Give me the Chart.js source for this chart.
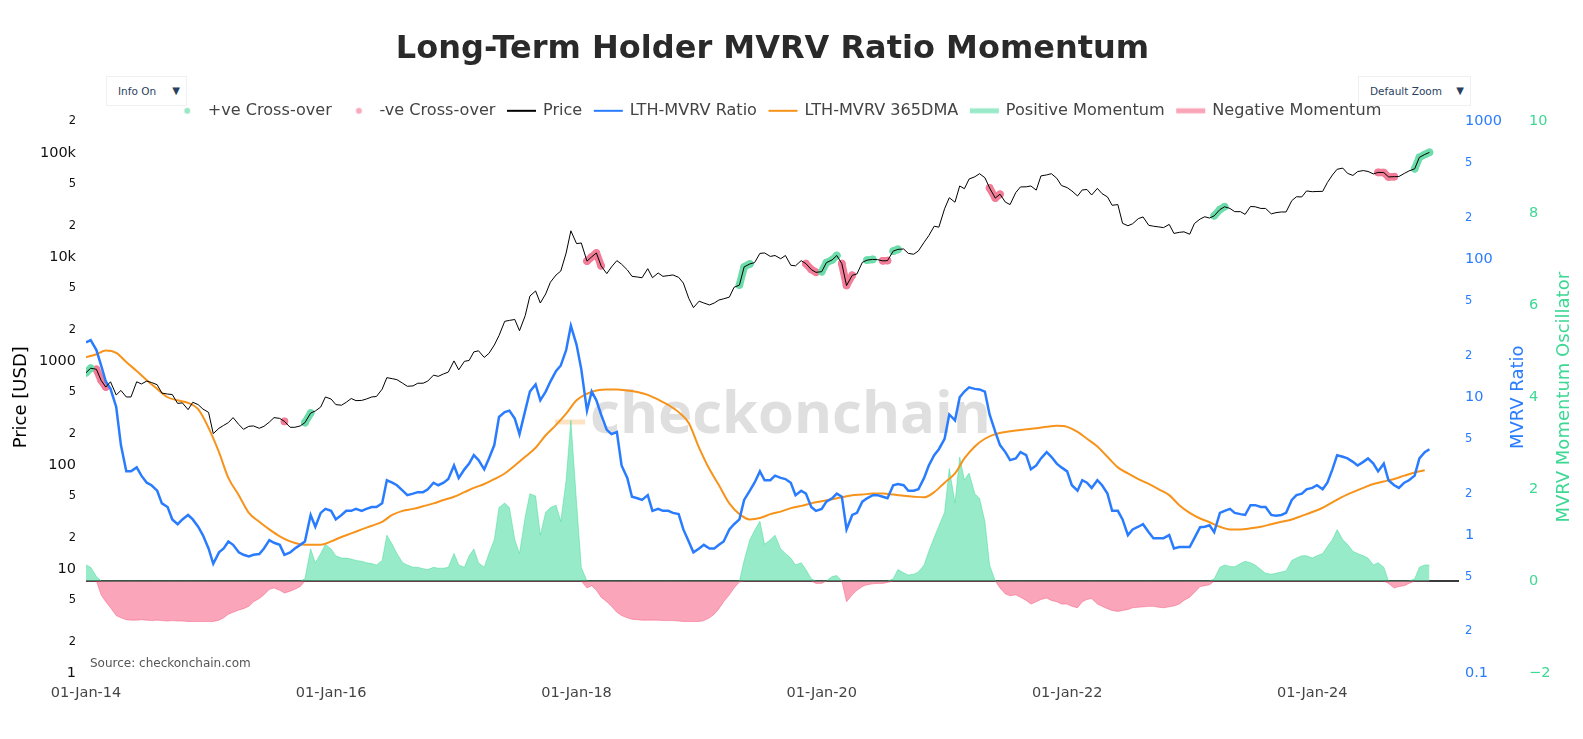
<!DOCTYPE html>
<html>
<head>
<meta charset="utf-8">
<title>Long-Term Holder MVRV Ratio Momentum</title>
<script src="https://cdn.jsdelivr.net/npm/chart.js@4.4.1/dist/chart.umd.min.js"></script>
<style>
  body { margin: 0; background: #fff; }
  #wrap { position: relative; width: 1583px; height: 739px; }
  .menu { position: absolute; top: 76px; height: 30px; box-sizing: border-box; border: 1px solid #eef0f4;
          background: #fff; font: 10.5px 'DejaVu Sans', sans-serif; color: #2a3f5f; line-height: 28px; padding-left: 11px; }
  .menu span { position: absolute; right: 6px; font-size: 10px; }
</style>
</head>
<body>
<div id="wrap">
  <canvas id="chart"></canvas>
  <div class="menu" style="left:106px;width:81px">Info On<span>▼</span></div>
  <div class="menu" style="left:1358px;width:113px">Default Zoom<span>▼</span></div>
</div>
<script>
// sample dates: 1st and 15th of every month, Jan 2014 - Dec 2024
const dates = [];
const dmaDates = [];
for (let y = 2014; y <= 2024; y++) {
  for (let m = 0; m < 12; m++) {
    dates.push(Date.UTC(y, m, 1), Date.UTC(y, m, 15));
    dmaDates.push(Date.UTC(y, m, 1));
  }
}

// BTC price (USD)
const price = [
  770, 850, 830, 650, 560, 630, 470, 520, 450, 450, 630, 600, 640, 620, 590, 490, 480, 475, 390, 395, 340, 400, 380, 345, // 2014
  320, 200, 225, 240, 255, 285, 245, 220, 235, 237, 225, 235, 258, 285, 280, 262, 230, 230, 237, 255, 315, 330, 360, 450, // 2015
  430, 380, 375, 400, 435, 415, 417, 430, 450, 455, 535, 690, 675, 660, 610, 570, 575, 610, 610, 640, 730, 710, 750, 780, // 2016
  1000, 820, 990, 1010, 1220, 1250, 1080, 1180, 1420, 1750, 2400, 2450, 2500, 1950, 2720, 4200, 4700, 3600, 4400, 5700, 6700, 7300, 10900, 17800, // 2017
  13400, 13600, 9100, 10000, 10900, 8200, 6900, 8000, 9200, 8500, 7500, 6500, 6400, 6300, 7700, 6300, 7000, 6500, 6600, 6700, 6350, 5600, 4000, 3250, // 2018
  3750, 3600, 3450, 3600, 3850, 3950, 4100, 5100, 5350, 8000, 8550, 8800, 10800, 10900, 10100, 10300, 9600, 10300, 8300, 8200, 9200, 8600, 7550, 7100, // 2019
  7200, 8800, 9350, 10300, 8600, 5300, 6650, 6850, 8850, 9300, 9450, 9400, 9150, 9200, 11350, 11800, 11900, 10800, 10600, 11400, 13800, 16000, 19700, 19300, // 2020
  29000, 37000, 33500, 48000, 45200, 56000, 58800, 63000, 57700, 46000, 36700, 40000, 33600, 31800, 41500, 47000, 47100, 48000, 43800, 60000, 61300, 63000, 57000, 48500, // 2021
  46300, 43000, 38500, 44000, 44400, 39300, 45500, 40500, 37700, 31300, 31800, 21000, 19900, 20800, 23300, 24200, 20100, 19700, 19400, 19100, 20500, 16800, 17200, 17400, // 2022
  16500, 20900, 23100, 24300, 23600, 24800, 28500, 30300, 29200, 27200, 27200, 25600, 30500, 30300, 29200, 29200, 25900, 26600, 27000, 27000, 34700, 37800, 37700, 43000, // 2023
  42300, 42500, 42600, 51800, 61200, 69500, 71300, 63500, 60600, 66000, 67500, 66200, 62700, 64800, 64600, 58700, 59000, 59200, 63300, 67000, 70200, 90500, 96400, 101000 // 2024
];

// LTH-MVRV ratio
const mvrv = [
  25, 26, 22, 17, 13, 11.5, 8.5, 4.5, 2.9, 2.9, 3.1, 2.7, 2.4, 2.3, 2.1, 1.7, 1.6, 1.3, 1.2, 1.3, 1.4, 1.3, 1.15, 1.0,
  0.8, 0.62, 0.75, 0.8, 0.9, 0.85, 0.75, 0.72, 0.7, 0.72, 0.73, 0.8, 0.92, 0.88, 0.85, 0.72, 0.75, 0.8, 0.85, 0.9, 1.4, 1.15, 1.45, 1.55,
  1.5, 1.3, 1.4, 1.5, 1.5, 1.55, 1.5, 1.55, 1.6, 1.6, 1.7, 2.5, 2.4, 2.3, 2.1, 1.95, 2.0, 2.05, 2.05, 2.15, 2.4, 2.3, 2.4, 2.55,
  3.2, 2.6, 3.0, 3.3, 3.8, 3.5, 3.0, 3.6, 4.5, 7.2, 7.8, 8.0, 7.0, 5.4, 8.0, 11, 12.4, 9.5, 11, 13, 15.5, 17, 22, 33,
  24, 16, 8, 11, 9.5, 7.5, 5.8, 5.4, 5.6, 3.2, 2.6, 1.9, 1.85, 1.8, 1.95, 1.5, 1.55, 1.5, 1.5, 1.45, 1.42, 1.1, 0.9, 0.75,
  0.8, 0.85, 0.8, 0.8, 0.85, 0.9, 1.1, 1.2, 1.3, 1.8, 2.1, 2.4, 2.9, 2.5, 2.5, 2.7, 2.6, 2.55, 2.4, 1.95, 2.1, 2.0, 1.6, 1.5,
  1.55, 1.75, 1.85, 2.0, 1.9, 1.1, 1.4, 1.45, 1.75, 1.85, 1.95, 1.95, 1.9, 1.85, 2.3, 2.35, 2.3, 2.1, 2.1, 2.15, 2.6, 3.2, 3.8, 4.2,
  5.0, 7.5, 6.8, 10, 11, 11.8, 11.5, 11.4, 11, 7.5, 5.6, 4.5, 4.0, 3.5, 3.6, 4.0, 3.8, 3.0, 3.2, 3.6, 4.0, 3.7, 3.3, 3.1,
  2.9, 2.3, 2.1, 2.5, 2.4, 2.2, 2.5, 2.3, 2.0, 1.5, 1.5, 1.3, 1.0, 1.1, 1.15, 1.2, 1.05, 0.95, 0.95, 0.95, 1.0, 0.8, 0.82, 0.82,
  0.82, 0.95, 1.14, 1.15, 1.18, 1.05, 1.45, 1.5, 1.55, 1.45, 1.42, 1.4, 1.65, 1.65, 1.6, 1.6, 1.4, 1.38, 1.4, 1.45, 1.8, 1.95, 2.0, 2.15,
  2.2, 2.3, 2.15, 2.4, 3.0, 3.8, 3.7, 3.6, 3.4, 3.2, 3.4, 3.6, 3.3, 2.9, 3.3, 2.5, 2.3, 2.2, 2.4, 2.5, 2.7, 3.6, 4.0, 4.2
];

// LTH-MVRV 365DMA, monthly
const dma = [
  19.5, 20.5, 21.8, 21, 18, 15.5, 13.3, 11.5, 10.0, 9.5, 9.1, 8.2,
  6.0, 4.0, 2.6, 1.95, 1.45, 1.25, 1.1, 0.98, 0.9, 0.86, 0.85, 0.85,
  0.9, 0.97, 1.03, 1.1, 1.17, 1.25, 1.4, 1.5, 1.55, 1.62, 1.7, 1.8,
  1.9, 2.05, 2.2, 2.35, 2.55, 2.8, 3.2, 3.7, 4.3, 5.3, 6.3, 7.6,
  9.5, 10.6, 11.2, 11.4, 11.4, 11.2, 10.9, 10.4, 9.6, 8.8, 7.8, 6.5,
  4.3, 3.0, 2.3, 1.7, 1.42, 1.3, 1.33, 1.42, 1.48, 1.57, 1.63, 1.7,
  1.76, 1.82, 1.88, 1.95, 1.97, 2.0, 2.0, 1.97, 1.93, 1.9, 1.88, 2.05,
  2.4, 2.8, 3.6, 4.4, 5.0, 5.4, 5.6, 5.75, 5.85, 5.95, 6.1, 6.2,
  6.1, 5.6, 5.0, 4.4, 3.7, 3.1, 2.8, 2.55, 2.35, 2.15, 1.95, 1.65,
  1.45, 1.32, 1.24, 1.15, 1.1, 1.1, 1.12, 1.15, 1.2, 1.25, 1.3, 1.38,
  1.47, 1.58, 1.73, 1.9, 2.05, 2.2, 2.35, 2.45, 2.55, 2.7, 2.85, 2.95
];

// MVRV momentum oscillator
const osc = [
  0.35, 0.3, 0.1, -0.3, -0.45, -0.58, -0.75, -0.8, -0.84, -0.85, -0.85, -0.84, -0.85, -0.86, -0.85, -0.86, -0.87, -0.86, -0.87, -0.87, -0.88, -0.88, -0.88, -0.88,
  -0.88, -0.88, -0.85, -0.8, -0.72, -0.68, -0.63, -0.6, -0.55, -0.45, -0.38, -0.3, -0.18, -0.15, -0.2, -0.26, -0.22, -0.18, -0.12, 0.05, 0.7, 0.4, 0.6, 0.8,
  0.7, 0.55, 0.5, 0.5, 0.48, 0.45, 0.43, 0.4, 0.38, 0.35, 0.45, 1.0, 0.8, 0.6, 0.4, 0.35, 0.3, 0.3, 0.27, 0.25, 0.3, 0.28, 0.28, 0.3,
  0.6, 0.35, 0.3, 0.55, 0.7, 0.4, 0.3, 0.6, 0.9, 1.6, 1.7, 1.6, 0.9, 0.6, 1.4, 1.9, 1.85, 1.0, 1.5, 1.6, 1.65, 1.3, 2.2, 3.5,
  1.7, 0.3, -0.15, -0.1, -0.2, -0.35, -0.45, -0.55, -0.68, -0.75, -0.8, -0.83, -0.84, -0.85, -0.85, -0.85, -0.85, -0.86, -0.86, -0.86, -0.87, -0.88, -0.88, -0.88,
  -0.88, -0.86, -0.8, -0.72, -0.6, -0.45, -0.3, -0.15, -0.02, 0.45, 0.9, 1.1, 1.3, 0.8, 0.9, 1.0, 0.7, 0.6, 0.5, 0.35, 0.4, 0.25, 0.05, -0.05,
  -0.05, 0.0, 0.1, 0.12, 0.0, -0.45, -0.3, -0.2, -0.12, -0.08, -0.06, -0.05, -0.05, -0.03, 0.05, 0.25, 0.18, 0.13, 0.15, 0.2, 0.35, 0.65, 0.95, 1.2,
  1.5, 2.45, 1.7, 2.7, 2.2, 2.35, 1.9, 1.8, 1.3, 0.35, 0.0, -0.15, -0.28, -0.32, -0.3, -0.35, -0.42, -0.5, -0.45, -0.4, -0.37, -0.42, -0.45, -0.5,
  -0.5, -0.55, -0.58, -0.45, -0.4, -0.38, -0.5, -0.55, -0.6, -0.64, -0.66, -0.64, -0.62, -0.58, -0.57, -0.56, -0.55, -0.55, -0.57, -0.58, -0.56, -0.54, -0.5, -0.42,
  -0.35, -0.25, -0.12, -0.1, -0.08, 0.05, 0.3, 0.35, 0.32, 0.31, 0.38, 0.43, 0.4, 0.35, 0.25, 0.17, 0.15, 0.17, 0.2, 0.22, 0.45, 0.5, 0.55, 0.55,
  0.5, 0.55, 0.6, 0.75, 0.9, 1.12, 0.9, 0.8, 0.65, 0.6, 0.55, 0.5, 0.35, 0.4, 0.3, -0.05, -0.15, -0.12, -0.1, -0.05, 0.05, 0.3, 0.35, 0.35
];

// cross-over dates (highlighted on the price line)
const posCross = ['2014-01-01', '2014-01-15', '2015-10-15', '2015-11-01', '2019-05-01', '2019-05-15', '2019-06-01',
  '2020-01-01', '2020-01-15', '2020-02-01', '2020-02-15', '2020-05-15', '2020-06-01', '2020-08-01', '2020-08-15',
  '2023-03-15', '2023-04-01', '2023-04-15', '2024-11-01', '2024-11-15', '2024-12-01', '2024-12-15'];
const negCross = ['2014-02-01', '2014-02-15', '2014-03-01', '2015-08-15', '2018-02-01', '2018-02-15', '2018-03-01', '2018-03-15',
  '2019-11-15', '2019-12-01', '2019-12-15', '2020-03-01', '2020-03-15', '2020-04-01', '2020-07-01', '2020-07-15',
  '2021-05-15', '2021-06-01', '2021-06-15', '2024-07-15', '2024-08-01', '2024-08-15', '2024-09-01'];

const tickYears = [2014, 2016, 2018, 2020, 2022, 2024];
const priceTicks = [1, 2, 5, 10, 20, 50, 100, 200, 500, 1000, 2000, 5000, 10000, 20000, 50000, 100000, 200000];
const mvrvTicks = [0.1, 0.2, 0.5, 1, 2, 5, 10, 20, 50, 100, 200, 500, 1000];

const BLUE = '#2a7cff', ORANGE = '#f7931a', GREEN = '#3dd894';

function toTime(s) {
  const p = s.split('-').map(Number);
  return Date.UTC(p[0], p[1] - 1, p[2]);
}
function isDecade(v) {
  const p = Math.log10(v);
  return Math.abs(p - Math.round(p)) < 1e-6;
}
function logLabel(v, useK) {
  if (isDecade(v)) return useK && v >= 10000 ? (v / 1000) + 'k' : String(v);
  return String(Math.round(v / Math.pow(10, Math.floor(Math.log10(v) + 1e-6))));
}
function crossSeries(list) {
  const set = new Set(list.map(toTime));
  return dates.map((t, i) => ({ x: t, y: set.has(t) ? price[i] : null }));
}
// little canvases used as legend symbols
function symbol(kind, color) {
  const c = document.createElement('canvas');
  c.width = 40; c.height = 16;
  const g = c.getContext('2d');
  if (kind === 'dot') {
    g.fillStyle = color; g.beginPath(); g.arc(25.5, 8, 3, 0, Math.PI * 2); g.fill();
  } else if (kind === 'line') {
    g.strokeStyle = color; g.lineWidth = 2; g.beginPath(); g.moveTo(10, 8); g.lineTo(39, 8); g.stroke();
  } else {
    g.fillStyle = color; g.fillRect(10, 5.5, 29, 5);
  }
  return c;
}
const legendSymbols = [
  symbol('dot', '#9be6c4'), symbol('dot', '#f6abbd'), symbol('line', '#000'), symbol('line', BLUE),
  symbol('line', ORANGE), symbol('rect', '#9ae9c8'), symbol('rect', '#f9a4b7')
];

// watermark, source note and right-hand axis titles
const extras = {
  id: 'extras',
  beforeDatasetsDraw(chart) {
    const { ctx, chartArea } = chart;
    const cx = (chartArea.left + chartArea.right) / 2 + 18;
    const by = chartArea.top + 295;
    ctx.save();
    ctx.font = 'bold 58px "Open Sans", sans-serif';
    ctx.fillStyle = '#dfdfdf';
    ctx.textAlign = 'center';
    ctx.fillText('checkonchain', cx, by);
    const w = ctx.measureText('checkonchain').width;
    ctx.fillStyle = '#fde3c6';
    ctx.fillRect(cx - w / 2 - 35, by + 3, 30, 5);
    ctx.restore();
  },
  afterDraw(chart) {
    const { ctx, chartArea, scales } = chart;
    const midY = (chartArea.top + chartArea.bottom) / 2;
    ctx.save();
    ctx.font = '12px "DejaVu Sans", sans-serif';
    ctx.fillStyle = '#555';
    ctx.textBaseline = 'middle';
    ctx.fillText('Source: checkonchain.com', chartArea.left + 4, chartArea.bottom - 9);
    ctx.font = '18px "DejaVu Sans", sans-serif';
    ctx.textAlign = 'center';
    [[scales.y1.right - 10, 'MVRV Ratio', BLUE], [scales.y2.right - 19, 'MVRV Momentum Oscillator', GREEN]].forEach(t => {
      ctx.save();
      ctx.translate(t[0], midY);
      ctx.rotate(-Math.PI / 2);
      ctx.fillStyle = t[2];
      ctx.fillText(t[1], 0, 0);
      ctx.restore();
    });
    ctx.restore();
  }
};

Chart.defaults.font.family = '"DejaVu Sans", sans-serif';

new Chart(document.getElementById('chart'), {
  type: 'line',
  data: {
    datasets: [
      {
        label: '+ve Cross-over', data: crossSeries(posCross), yAxisID: 'y', order: 4,
        borderColor: '#6cdcab', backgroundColor: '#6cdcab', borderWidth: 7.5, borderCapStyle: 'round', borderJoinStyle: 'round',
        pointRadius: 3.8, pointBorderWidth: 0
      },
      {
        label: '-ve Cross-over', data: crossSeries(negCross), yAxisID: 'y', order: 4,
        borderColor: '#f27d98', backgroundColor: '#f27d98', borderWidth: 7.5, borderCapStyle: 'round', borderJoinStyle: 'round',
        pointRadius: 3.8, pointBorderWidth: 0
      },
      {
        label: 'Price', data: dates.map((t, i) => ({ x: t, y: price[i] })), yAxisID: 'y', order: 1,
        borderColor: '#000', borderWidth: 1, pointRadius: 0
      },
      {
        label: 'LTH-MVRV Ratio', data: dates.map((t, i) => ({ x: t, y: mvrv[i] })), yAxisID: 'y1', order: 2,
        borderColor: BLUE, borderWidth: 2.5, pointRadius: 0
      },
      {
        label: 'LTH-MVRV 365DMA', data: dmaDates.map((t, i) => ({ x: t, y: dma[i] })), yAxisID: 'y1', order: 3,
        borderColor: ORANGE, borderWidth: 2, pointRadius: 0, cubicInterpolationMode: 'monotone'
      },
      {
        label: 'Positive Momentum', data: dates.map((t, i) => ({ x: t, y: Math.max(osc[i], 0) })), yAxisID: 'y2', order: 5,
        borderColor: 'rgba(50,215,145,0.55)', borderWidth: 0.8, backgroundColor: 'rgba(50,215,145,0.5)', fill: 'origin', pointRadius: 0
      },
      {
        label: 'Negative Momentum', data: dates.map((t, i) => ({ x: t, y: Math.min(osc[i], 0) })), yAxisID: 'y2', order: 5,
        borderColor: 'rgba(245,75,115,0.55)', borderWidth: 0.8, backgroundColor: 'rgba(245,75,115,0.5)', fill: 'origin', pointRadius: 0
      }
    ]
  },
  options: {
    responsive: true,
    maintainAspectRatio: false,
    animation: false,
    events: [],
    layout: { padding: 0 },
    plugins: {
      title: {
        display: true, fullSize: false, text: 'Long-Term Holder MVRV Ratio Momentum', color: '#2a2a2a',
        font: { size: 32, weight: 'bold' }, padding: { top: 30.1, bottom: 30.75 }
      },
      legend: {
        fullSize: false, maxHeight: 22.25,
        labels: {
          color: '#444', font: { size: 16.1 }, padding: 3.5, usePointStyle: true, pointStyleWidth: 36,
          sort: (a, b) => a.datasetIndex - b.datasetIndex,
          generateLabels(chart) {
            const items = Chart.defaults.plugins.legend.labels.generateLabels(chart);
            items.forEach(it => { it.pointStyle = legendSymbols[it.datasetIndex]; });
            return items;
          }
        }
      },
      tooltip: { enabled: false }
    },
    scales: {
      x: {
        type: 'linear', min: Date.UTC(2014, 0, 1), max: Date.UTC(2025, 2, 13),
        grid: { display: false, drawTicks: false }, border: { display: false },
        afterBuildTicks: s => { s.ticks = tickYears.map(y => ({ value: Date.UTC(y, 0, 1) })); },
        afterFit: s => { s.height = 66; },
        ticks: {
          autoSkip: false, maxRotation: 0, padding: 12, color: '#444', font: { size: 14.5 },
          callback: v => '01-Jan-' + String(new Date(v).getUTCFullYear()).slice(2)
        }
      },
      y: {
        type: 'logarithmic', position: 'left', min: 1, max: 200000,
        grid: { display: false, drawTicks: false }, border: { display: false },
        afterBuildTicks: s => { s.ticks = priceTicks.map(v => ({ value: v })); },
        afterFit: s => { s.width = 86; },
        title: { display: true, text: 'Price [USD]', color: '#000', font: { size: 18 }, padding: { top: 11, bottom: 0 } },
        ticks: {
          autoSkip: false, padding: 10, color: '#111',
          font: c => ({ size: isDecade(c.tick.value) ? 14.5 : 11.5 }),
          callback: v => logLabel(v, true)
        }
      },
      y1: {
        type: 'logarithmic', position: 'right', min: 0.1, max: 1000,
        grid: { display: false, drawTicks: false }, border: { display: false },
        afterBuildTicks: s => { s.ticks = mvrvTicks.map(v => ({ value: v })); },
        afterFit: s => { s.width = 69; },
        ticks: {
          autoSkip: false, padding: 6, color: BLUE,
          font: c => ({ size: isDecade(c.tick.value) ? 14.5 : 11.5 }),
          callback: v => logLabel(v, false)
        }
      },
      y2: {
        type: 'linear', position: 'right', min: -2, max: 10, z: 1,
        grid: { drawTicks: false, lineWidth: 2, color: c => (c.tick && c.tick.value === 0 ? '#3a3a3a' : 'rgba(0,0,0,0)') },
        border: { display: false },
        afterFit: s => { s.width = 55; },
        ticks: {
          stepSize: 2, padding: 1, color: GREEN, font: { size: 14.5 },
          callback: v => (v < 0 ? '\u2212' + Math.abs(v) : String(v))
        }
      }
    }
  },
  plugins: [extras]
});
</script>
</body>
</html>
